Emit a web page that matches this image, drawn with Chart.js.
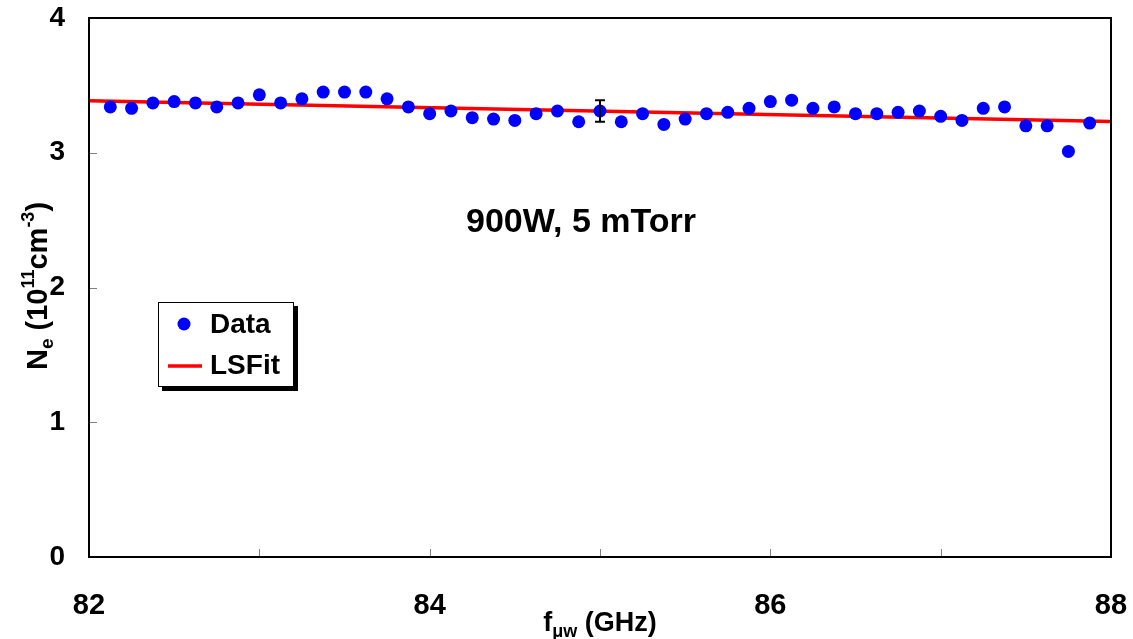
<!DOCTYPE html>
<html>
<head>
<meta charset="utf-8">
<title>Ne vs f</title>
<script src="https://cdn.jsdelivr.net/npm/chart.js@4.4.1/dist/chart.umd.min.js"></script>
<style>
  body { margin: 0; background: #fff; }
  #wrap { width: 1133px; height: 639px; }
</style>
</head>
<body>
<div id="wrap"><canvas id="myChart" width="1133" height="639"></canvas></div>
<script>
// measured frequencies (GHz)
const freqs = [82.125, 82.25, 82.375, 82.5, 82.625, 82.75, 82.875, 83.0, 83.125, 83.25,
  83.375, 83.5, 83.625, 83.75, 83.875, 84.0, 84.125, 84.25, 84.375, 84.5,
  84.625, 84.75, 84.875, 85.0, 85.125, 85.25, 85.375, 85.5, 85.625, 85.75,
  85.875, 86.0, 86.125, 86.25, 86.375, 86.5, 86.625, 86.75, 86.875, 87.0,
  87.125, 87.25, 87.375, 87.5, 87.625, 87.75, 87.875];
// electron density, 10^11 cm^-3
const neData = [3.34, 3.33, 3.37, 3.38, 3.37, 3.34, 3.37, 3.43, 3.37, 3.40,
  3.45, 3.45, 3.45, 3.40, 3.34, 3.29, 3.31, 3.26, 3.25, 3.24,
  3.29, 3.31, 3.23, 3.31, 3.23, 3.29, 3.21, 3.25, 3.29, 3.30,
  3.33, 3.38, 3.39, 3.33, 3.34, 3.29, 3.29, 3.30, 3.31, 3.27,
  3.24, 3.33, 3.34, 3.20, 3.20, 3.01, 3.22];
// least squares fit line
const fitX = [82, 88];
const fitY = [3.385, 3.232];
// single error bar
const errX = [85];
const errLow = [3.23];
const errHigh = [3.39];
// axis ticks
const xTicks = [82, 84, 86, 88];
const yTicks = [0, 1, 2, 3, 4];

const FONT = "'Liberation Sans', Arial, sans-serif";

// draws a string made of pieces (normal / sub / sup)
function drawRich(ctx, parts, x, y, align) {
  let total = 0;
  parts.forEach(p => {
    ctx.font = 'bold ' + p.size + 'px ' + FONT;
    p.w = ctx.measureText(p.t).width;
    total += p.w;
  });
  let cx = align === 'center' ? x - total / 2 : x;
  ctx.textAlign = 'left';
  ctx.textBaseline = 'alphabetic';
  parts.forEach(p => {
    ctx.font = 'bold ' + p.size + 'px ' + FONT;
    ctx.fillText(p.t, cx, y + (p.dy || 0));
    cx += p.w;
  });
}

// fixed axis sizes, no extra label overhang padding
function fixScale(size) {
  return s => {
    if (s.isHorizontal()) s.height = size; else s.width = size;
    s.paddingTop = 0; s.paddingBottom = 0; s.paddingLeft = 0; s.paddingRight = 0;
  };
}

const extras = {
  id: 'extras',
  afterDatasetsDraw(chart) {
    const ctx = chart.ctx;
    const xs = chart.scales.x, ys = chart.scales.y;
    const a = chart.chartArea;
    ctx.save();

    // error bar
    ctx.strokeStyle = '#000';
    ctx.lineWidth = 2;
    errX.forEach((v, i) => {
      const px = xs.getPixelForValue(v);
      const top = ys.getPixelForValue(errHigh[i]);
      const bot = ys.getPixelForValue(errLow[i]);
      ctx.beginPath();
      ctx.moveTo(px, top); ctx.lineTo(px, bot);
      ctx.moveTo(px - 5, top); ctx.lineTo(px + 5, top);
      ctx.moveTo(px - 5, bot); ctx.lineTo(px + 5, bot);
      ctx.stroke();
    });

    // inward tick marks
    ctx.strokeStyle = '#808080';
    ctx.lineWidth = 1;
    ctx.beginPath();
    for (let v = 83; v <= 87; v++) {
      const px = Math.round(xs.getPixelForValue(v)) + 0.5;
      ctx.moveTo(px, a.bottom); ctx.lineTo(px, a.bottom - 8);
    }
    for (let v = 1; v <= 3; v++) {
      const py = Math.round(ys.getPixelForValue(v)) + 0.5;
      ctx.moveTo(a.left, py); ctx.lineTo(a.left + 8, py);
    }
    ctx.stroke();

    // plot frame
    ctx.strokeStyle = '#000';
    ctx.lineWidth = 2;
    ctx.strokeRect(a.left, a.top, a.right - a.left, a.bottom - a.top);

    // annotation
    ctx.fillStyle = '#000';
    ctx.font = 'bold 34px ' + FONT;
    ctx.textAlign = 'center';
    ctx.textBaseline = 'middle';
    ctx.fillText('900W, 5 mTorr', 581, 223);

    // legend box with shadow
    ctx.fillStyle = '#000';
    ctx.fillRect(162, 306, 136, 85);
    ctx.fillStyle = '#fff';
    ctx.fillRect(158, 302, 136, 85);
    ctx.strokeStyle = '#000';
    ctx.lineWidth = 1;
    ctx.strokeRect(158.5, 302.5, 135, 84);
    ctx.fillStyle = '#0000ff';
    ctx.beginPath();
    ctx.arc(184, 324, 6.5, 0, Math.PI * 2);
    ctx.fill();
    ctx.strokeStyle = '#ff0000';
    ctx.lineWidth = 3.5;
    ctx.beginPath();
    ctx.moveTo(168, 366); ctx.lineTo(202, 366);
    ctx.stroke();
    ctx.fillStyle = '#000';
    ctx.font = 'bold 28px ' + FONT;
    ctx.textAlign = 'left';
    ctx.textBaseline = 'middle';
    ctx.fillText('Data', 210, 325);
    ctx.fillText('LSFit', 210, 366);

    // axis titles
    drawRich(ctx, [
      { t: 'f', size: 27 },
      { t: '\u03bcw', size: 18, dy: 6 },
      { t: ' (GHz)', size: 27 }
    ], 600, 631, 'center');

    ctx.save();
    ctx.translate(47, 286);
    ctx.rotate(-Math.PI / 2);
    drawRich(ctx, [
      { t: 'N', size: 29 },
      { t: 'e', size: 19, dy: 6 },
      { t: ' (10', size: 29 },
      { t: '11', size: 18, dy: -13 },
      { t: 'cm', size: 29 },
      { t: '-3', size: 18, dy: -13 },
      { t: ')', size: 29 }
    ], 0, 0, 'center');
    ctx.restore();

    ctx.restore();
  }
};

const ctx = document.getElementById('myChart').getContext('2d');
new Chart(ctx, {
  type: 'scatter',
  data: {
    datasets: [
      {
        label: 'Data',
        data: freqs.map((f, i) => ({ x: f, y: neData[i] })),
        backgroundColor: '#0000ff',
        borderWidth: 0,
        pointRadius: 6.5,
        showLine: false
      },
      {
        label: 'LSFit',
        data: fitX.map((f, i) => ({ x: f, y: fitY[i] })),
        borderColor: '#ff0000',
        borderWidth: 3.5,
        pointRadius: 0,
        showLine: true
      }
    ]
  },
  options: {
    responsive: false,
    animation: false,
    layout: { padding: { top: 18, right: 22, left: 0, bottom: 0 } },
    plugins: { legend: { display: false }, tooltip: { enabled: false } },
    scales: {
      x: {
        type: 'linear',
        min: 82,
        max: 88,
        afterFit: fixScale(82),
        afterBuildTicks: s => { s.ticks = xTicks.map(v => ({ value: v })); },
        grid: { display: false, drawTicks: false },
        border: { display: false },
        ticks: {
          autoSkip: false,
          maxRotation: 0,
          padding: 32,
          color: '#000',
          font: { family: FONT, size: 29, weight: 'bold' }
        }
      },
      y: {
        min: 0,
        max: 4,
        afterFit: fixScale(89),
        afterBuildTicks: s => { s.ticks = yTicks.map(v => ({ value: v })); },
        grid: { display: false, drawTicks: false },
        border: { display: false },
        ticks: {
          padding: 24,
          color: '#000',
          font: { family: FONT, size: 28, weight: 'bold' }
        }
      }
    }
  },
  plugins: [extras]
});
</script>
</body>
</html>
